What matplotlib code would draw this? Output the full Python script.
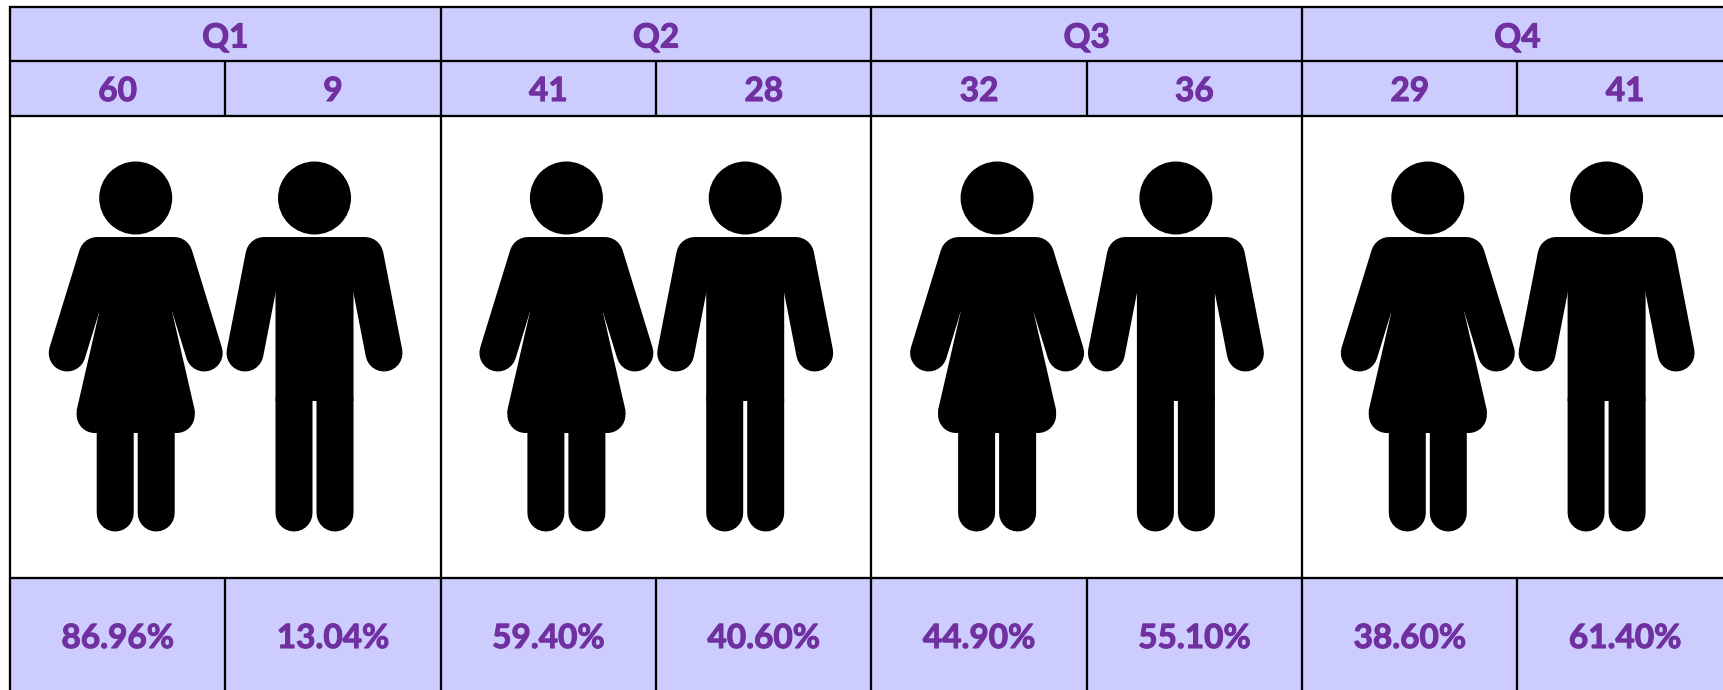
import matplotlib
matplotlib.use("Agg")
import matplotlib.pyplot as plt
import matplotlib.patheffects as pe
from matplotlib.patches import Rectangle, Circle, Polygon

# chart values
quarters = ["Q1", "Q2", "Q3", "Q4"]
first_counts = [60, 41, 32, 29]
second_counts = [9, 28, 36, 41]
first_pct = ["86.96%", "59.40%", "44.90%", "38.60%"]
second_pct = ["13.04%", "40.60%", "55.10%", "61.40%"]

BAND = "#CCCCFF"
PURPLE = "#7030A0"
PX = 0.72  # one pixel in points at dpi 100

left = 10
col_w = 430.7
right = 1724


def limb(ax, x0, y0, x1, y1, r=18.5):
    ax.plot([x0, x1], [y0, y1], color="black", lw=2 * r * PX,
            solid_capstyle="round", zorder=3, snap=False)


def woman(ax, cx):
    ax.add_patch(Circle((cx, 198), 36.5, color="black", lw=0, zorder=3))
    limb(ax, cx - 38.5, 255.5, cx - 68.5, 353)
    limb(ax, cx + 38.5, 255.5, cx + 68.5, 353)
    body = [(-38.5, 237), (38.5, 237), (36.7, 313), (59, 410), (59, 414),
            (41, 433), (-41, 433), (-59, 414), (-59, 410), (-36.7, 313)]
    ax.add_patch(Polygon([(cx + a, b) for a, b in body], closed=True,
                         color="black", lw=0, zorder=3, snap=False))
    ax.add_patch(Circle((cx - 41, 415), 18, color="black", lw=0, zorder=3))
    ax.add_patch(Circle((cx + 41, 415), 18, color="black", lw=0, zorder=3))
    limb(ax, cx - 20.5, 430, cx - 20.5, 513)
    limb(ax, cx + 20.5, 430, cx + 20.5, 513)


def man(ax, cx):
    ax.add_patch(Circle((cx, 198), 36.5, color="black", lw=0, zorder=3))
    limb(ax, cx - 50.5, 255.5, cx - 69.5, 353)
    limb(ax, cx + 50.5, 255.5, cx + 69.5, 353)
    ax.add_patch(Polygon([(cx - 50.5, 237), (cx + 50.5, 237), (cx + 50.5, 280),
                          (cx + 39, 280), (cx + 39, 401), (cx - 39, 401),
                          (cx - 39, 280), (cx - 50.5, 280)],
                         closed=True, color="black", lw=0, zorder=3, snap=False))
    limb(ax, cx - 20.5, 400, cx - 20.5, 513)
    limb(ax, cx + 20.5, 400, cx + 20.5, 513)


fig = plt.figure(figsize=(17.24, 6.9), dpi=100)
ax = fig.add_axes([0, 0, 1, 1])
ax.set_xlim(0, 1724)
ax.set_ylim(690, 0)
ax.axis("off")

# background bands
ax.add_patch(Rectangle((left, 7), right - left, 109, color=BAND, lw=0))
ax.add_patch(Rectangle((left, 578), right - left, 112, color=BAND, lw=0))

# grid lines
LW = 2.3 * PX
for y in [7, 61, 116, 578]:
    ax.plot([left - 1, right], [y, y], color="black", lw=LW, solid_capstyle="butt", zorder=2)
for i in range(len(quarters)):
    x = left + i * col_w
    ax.plot([x, x], [6, 690], color="black", lw=LW, solid_capstyle="butt", zorder=2)
    mid = x + col_w / 2
    ax.plot([mid, mid], [61, 116], color="black", lw=LW, solid_capstyle="butt", zorder=2)
    ax.plot([mid, mid], [578, 690], color="black", lw=LW, solid_capstyle="butt", zorder=2)

font = dict(family="Lato", weight="bold", color=PURPLE, ha="center", va="baseline", fontsize=24,
            path_effects=[pe.withStroke(linewidth=0.8, foreground=PURPLE)])
for i, q in enumerate(quarters):
    x = left + i * col_w
    a = x + col_w / 4
    b = x + 3 * col_w / 4
    ax.text(x + col_w / 2, 47.5, q, **font)
    ax.text(a, 101, str(first_counts[i]), **font)
    ax.text(b, 101, str(second_counts[i]), **font)
    ax.text(a, 648, first_pct[i], **font)
    ax.text(b, 648, second_pct[i], **font)
    woman(ax, x + 125.7)
    man(ax, x + 304.5)

fig.savefig("out.png", dpi=100)
